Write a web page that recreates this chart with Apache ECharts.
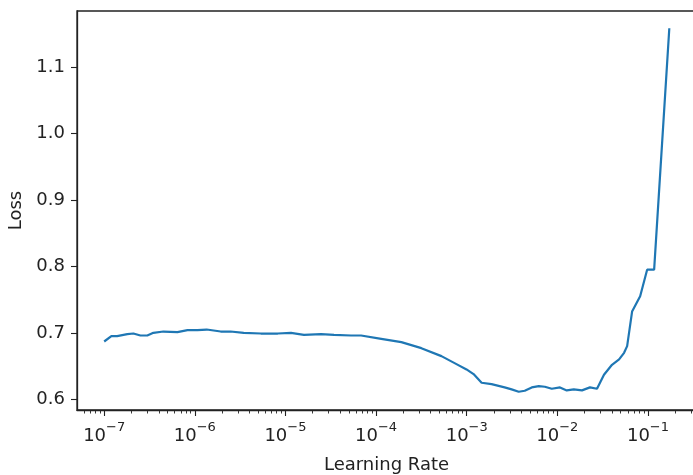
<!DOCTYPE html>
<html>
<head>
  <meta charset="UTF-8">
  <title>Learning Rate vs Loss</title>
  <script src="https://cdn.jsdelivr.net/npm/echarts@6/dist/echarts.min.js"></script>
  <style>
    html,body{margin:0;padding:0;background:#fff;}
    #chart{width:693px;height:475px;}
  </style>
</head>
<body>
<div id="chart"></div>
<script type="text/javascript">
  var lrs = [1.0e-7, 1.20e-7, 1.39e-7, 1.80e-7, 2.10e-7, 2.51e-7, 2.99e-7, 3.49e-7, 4.50e-7, 6.43e-7,
    8.30e-7, 1.07e-6, 1.35e-6, 1.93e-6, 2.48e-6, 3.46e-6, 5.35e-6, 8.24e-6, 1.15e-5, 1.60e-5,
    2.47e-5, 3.44e-5, 5.30e-5, 6.84e-5, 1.14e-4, 1.90e-4, 3.16e-4, 5.26e-4, 7.71e-4, 9.95e-4,
    1.19e-3, 1.46e-3, 1.88e-3, 2.62e-3, 3.13e-3, 3.75e-3, 4.37e-3, 5.22e-3, 6.24e-3, 7.28e-3,
    8.69e-3, 1.07e-2, 1.27e-2, 1.52e-2, 1.87e-2, 2.29e-2, 2.74e-2, 3.27e-2, 4.01e-2, 4.80e-2,
    5.45e-2, 5.89e-2, 6.68e-2, 8.20e-2, 9.79e-2, 1.17e-1, 1.72e-1];
  var losses = [0.687, 0.695, 0.695, 0.698, 0.699, 0.696, 0.696, 0.700, 0.702, 0.701,
    0.704, 0.704, 0.705, 0.702, 0.702, 0.700, 0.699, 0.699, 0.700, 0.697,
    0.698, 0.697, 0.696, 0.696, 0.691, 0.686, 0.677, 0.665, 0.653, 0.645,
    0.638, 0.625, 0.623, 0.618, 0.615, 0.6115, 0.613, 0.618, 0.620, 0.619,
    0.616, 0.618, 0.6135, 0.615, 0.6135, 0.618, 0.616, 0.637, 0.652, 0.660,
    0.670, 0.680, 0.732, 0.755, 0.795, 0.795, 1.158];

  // axis ticks (x in powers of ten)
  var xDecades = [-7, -6, -5, -4, -3, -2, -1];
  var xMinorSteps = [2, 3, 4, 5, 6, 7, 8, 9];
  var yTicks = [0.6, 0.7, 0.8, 0.9, 1.0, 1.1];
  var xMin = -7.30, xMax = -0.47;
  var yMin = 0.584, yMax = 1.184;

  var minorTicks = [];
  [-8].concat(xDecades).forEach(function(d){
    xMinorSteps.forEach(function(k){
      var v = d + Math.log10(k);
      if (v > xMin && v < xMax) minorTicks.push(v);
    });
  });

  var points = lrs.map(function(lr, i){ return [Math.log10(lr), losses[i]]; });

  var font = 'DejaVu Sans';
  var ink = '#222';

  var chart = echarts.init(document.getElementById('chart'), null, {renderer:'canvas'});
  chart.setOption({
    animation:false,
    backgroundColor:'#fff',
    grid:{left:77, right:-3, top:11, bottom:65, outerBoundsMode:'none', containLabel:false,
      show:true, borderColor:ink, borderWidth:1.3, backgroundColor:'transparent'},
    xAxis:[
      {
        type:'value', min:xMin, max:xMax,
        name:'Learning Rate', nameLocation:'middle', nameGap:46,
        nameTextStyle:{fontFamily:font, fontSize:18, color:ink},
        axisLine:{show:true, lineStyle:{color:ink, width:1.3}},
        axisTick:{show:true, length:6, customValues:xDecades, lineStyle:{color:ink, width:1.1}},
        splitLine:{show:false},
        axisLabel:{
          customValues:xDecades, margin:11, color:ink,
          formatter:function(v){ return '{b|10}{s|\u2212' + Math.round(-v) + '}'; },
          rich:{
            b:{fontFamily:font, fontSize:18, color:ink, verticalAlign:'bottom', lineHeight:24},
            s:{fontFamily:font, fontSize:13, color:ink, verticalAlign:'top', lineHeight:24}
          }
        }
      },
      {
        type:'value', min:xMin, max:xMax, position:'bottom',
        axisLine:{show:false},
        axisTick:{show:true, length:3.5, customValues:minorTicks, lineStyle:{color:ink, width:0.9}},
        axisLabel:{show:false},
        splitLine:{show:false}
      }
    ],
    yAxis:{
      type:'value', min:yMin, max:yMax,
      name:'Loss', nameLocation:'middle', nameGap:50,
      nameTextStyle:{fontFamily:font, fontSize:18, color:ink},
      axisLine:{show:true, lineStyle:{color:ink, width:1.3}},
      axisTick:{show:true, length:6, customValues:yTicks, lineStyle:{color:ink, width:1.1}},
      splitLine:{show:false},
      axisLabel:{
        customValues:yTicks, margin:12, fontFamily:font, fontSize:18, color:ink,
        formatter:function(v){ return v.toFixed(1); }
      }
    },
    series:[{
      type:'line', data:points, xAxisIndex:0,
      symbol:'none', smooth:false,
      lineStyle:{color:'#1f77b4', width:2.2}
    }]
  });
</script>
</body>
</html>
